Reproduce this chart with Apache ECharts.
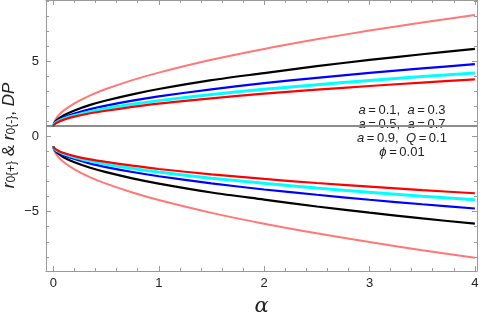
<!DOCTYPE html>
<html>
<head>
<meta charset="utf-8">
<script src="https://cdn.jsdelivr.net/npm/echarts@6/dist/echarts.min.js"></script>
<style>
  html, body { margin: 0; padding: 0; background: #fff; }
  #chart { width: 484px; height: 316px; }
</style>
</head>
<body>
<div id="chart"></div>
<script>
// alpha samples
var alpha = [0, 0.005, 0.01, 0.02, 0.05, 0.1, 0.2, 0.35, 0.5, 0.75, 1, 1.5, 2, 2.5, 3, 3.5, 4];

// r0(+) branches
var pinkUp  = [0.66, 0.88, 0.98, 1.12, 1.40, 1.72, 2.19, 2.72, 3.14, 3.73, 4.23, 5.08, 5.80, 6.44, 7.02, 7.56, 8.06];
var blackUp = [0.66, 0.81, 0.88, 0.98, 1.17, 1.40, 1.72, 2.09, 2.38, 2.79, 3.14, 3.73, 4.20, 4.66, 5.07, 5.45, 5.80];
var blueUp  = [0.66, 0.78, 0.84, 0.91, 1.07, 1.25, 1.51, 1.81, 2.04, 2.37, 2.65, 3.12, 3.53, 3.88, 4.21, 4.51, 4.79];
var cyanUp  = [0.66, 0.77, 0.81, 0.88, 1.01, 1.17, 1.39, 1.64, 1.85, 2.13, 2.37, 2.78, 3.12, 3.43, 3.71, 3.97, 4.21];
var redUp   = [0.66, 0.75, 0.79, 0.85, 0.97, 1.11, 1.31, 1.53, 1.70, 1.95, 2.17, 2.52, 2.83, 3.10, 3.34, 3.57, 3.78];

// r0(-) branches
var pinkDn  = [-0.66, -0.88, -0.98, -1.12, -1.40, -1.72, -2.19, -2.72, -3.14, -3.73, -4.23, -5.08, -5.80, -6.44, -7.02, -7.56, -8.06];
var blackDn = [-0.66, -0.81, -0.88, -0.98, -1.17, -1.40, -1.72, -2.09, -2.38, -2.79, -3.14, -3.73, -4.20, -4.66, -5.07, -5.45, -5.80];
var blueDn  = [-0.66, -0.78, -0.84, -0.91, -1.07, -1.25, -1.51, -1.81, -2.04, -2.37, -2.65, -3.12, -3.53, -3.88, -4.21, -4.51, -4.79];
var cyanDn  = [-0.66, -0.77, -0.81, -0.88, -1.01, -1.17, -1.39, -1.64, -1.85, -2.13, -2.37, -2.78, -3.12, -3.43, -3.71, -3.97, -4.21];
var redDn   = [-0.66, -0.75, -0.79, -0.85, -0.97, -1.11, -1.31, -1.53, -1.70, -1.95, -2.17, -2.52, -2.83, -3.10, -3.34, -3.57, -3.78];

// DP level
var dpAlpha = [-0.07, 4.02];
var dpValue = [0.68, 0.68];

// ticks
var xMajor = [0, 1, 2, 3, 4];
var xMinor = [0.2, 0.4, 0.6, 0.8, 1.2, 1.4, 1.6, 1.8, 2.2, 2.4, 2.6, 2.8, 3.2, 3.4, 3.6, 3.8];
var yMajor = [-5, 0, 5];
var yMinor = [-8, -7, -6, -4, -3, -2, -1, 1, 2, 3, 4, 6, 7, 8, 9];

function pairs(xs, ys) {
    var out = [];
    for (var i = 0; i < xs.length; i++) {
        out.push([xs[i], ys[i]]);
    }
    return out;
}

var frameColor = '#9a9a9a';
var fontFamily = 'Liberation Sans, Arial, sans-serif';

function xAxisOf(pos, ticks, len, withLine, withLabel) {
    return {
        type: 'value', position: pos, min: -0.07, max: 4.02,
        axisLine: { show: withLine, onZero: false, lineStyle: { color: frameColor, width: 1 } },
        axisTick: { show: true, inside: true, length: len, customValues: ticks, lineStyle: { color: frameColor } },
        axisLabel: {
            show: withLabel, customValues: ticks, margin: 6,
            color: '#222', fontSize: 13, fontFamily: fontFamily
        },
        splitLine: { show: false }
    };
}

function yAxisOf(pos, ticks, len, withLine, withLabel) {
    return {
        type: 'value', position: pos, min: -8.94, max: 9.05,
        axisLine: { show: withLine, onZero: false, lineStyle: { color: frameColor, width: 1 } },
        axisTick: { show: true, inside: true, length: len, customValues: ticks, lineStyle: { color: frameColor } },
        axisLabel: {
            show: withLabel, customValues: ticks, margin: 7,
            color: '#222', fontSize: 13, fontFamily: fontFamily,
            formatter: function (v) { return String(v).replace('-', '\u2212'); }
        },
        splitLine: { show: false }
    };
}

function curve(name, data, color, width) {
    return {
        name: name, type: 'line', smooth: 0.3, symbol: 'none',
        xAxisIndex: 0, yAxisIndex: 0,
        data: data, lineStyle: { color: color, width: width }
    };
}

var xMain = xAxisOf('bottom', xMajor, 5, true, true);
xMain.name = 'α';
xMain.nameLocation = 'middle';
xMain.nameGap = 25;
xMain.nameMoveOverlap = false;
xMain.nameTextStyle = { fontSize: 21, fontStyle: 'italic', color: '#222', fontFamily: 'DejaVu Serif, serif' };

var yMain = yAxisOf('left', yMajor, 5, true, true);
yMain.name = '{i|r}{s|0{+}}{n| & }{i|r}{s|0{-}}{n|, }{i|DP}';
yMain.nameLocation = 'middle';
yMain.nameGap = 23;
yMain.nameMoveOverlap = false;
yMain.nameTextStyle = {
    fontSize: 12, color: '#222', fontFamily: fontFamily,
    rich: {
        i: { fontSize: 17, fontStyle: 'italic', color: '#222', fontFamily: fontFamily, lineHeight: 14, verticalAlign: 'top' },
        n: { fontSize: 17, color: '#222', fontFamily: fontFamily, lineHeight: 14, verticalAlign: 'top' },
        s: { fontSize: 12, color: '#222', fontFamily: fontFamily, lineHeight: 22 }
    }
};

var option = {
    animation: false,
    backgroundColor: '#fff',
    grid: { left: 46, right: 7, top: 0, bottom: 45, containLabel: false, outerBoundsMode: 'none' },
    xAxis: [
        xMain,
        xAxisOf('top', xMajor, 5, true, false),
        xAxisOf('bottom', xMinor, 3, false, false),
        xAxisOf('top', xMinor, 3, false, false)
    ],
    yAxis: [
        yMain,
        yAxisOf('right', yMajor, 5, true, false),
        yAxisOf('left', yMinor, 3, false, false),
        yAxisOf('right', yMinor, 3, false, false)
    ],
    graphic: [{
        type: 'text', left: 357, top: 104,
        style: {
            text: '{i|a}{t|\u2009=\u20090.1,  }{i|a}{t|\u2009=\u20090.3}\n' +
                  '{i|a}{t|\u2009=\u20090.5,  }{i|a}{t|\u2009=\u20090.7}\n' +
                  '{i|a}{t|\u2009=\u20090.9,  }{i|Q}{t|\u2009=\u20090.1}\n' +
                  '{i|\u03d5}{t|\u2009=\u20090.01}',
            align: 'center',
            rich: {
                i: { fontSize: 13, fontStyle: 'italic', fill: '#222', fontFamily: fontFamily, lineHeight: 14, align: 'center' },
                t: { fontSize: 13, fill: '#222', fontFamily: fontFamily, lineHeight: 14, align: 'center' }
            }
        }
    }],
    series: [
        {
            name: 'DP', type: 'line', symbol: 'none', xAxisIndex: 0, yAxisIndex: 0,
            data: pairs(dpAlpha, dpValue), lineStyle: { color: '#8c8c8c', width: 2 }
        },
        curve('pink+', pairs(alpha, pinkUp), '#ff7777', 2),
        curve('black+', pairs(alpha, blackUp), '#000000', 2.2),
        curve('blue+', pairs(alpha, blueUp), '#0000ff', 2.2),
        curve('cyan+', pairs(alpha, cyanUp), '#00ffff', 3),
        curve('red+', pairs(alpha, redUp), '#ff0000', 2.2),
        curve('pink-', pairs(alpha, pinkDn), '#ff7777', 2),
        curve('black-', pairs(alpha, blackDn), '#000000', 2.2),
        curve('blue-', pairs(alpha, blueDn), '#0000ff', 2.2),
        curve('cyan-', pairs(alpha, cyanDn), '#00ffff', 3),
        curve('red-', pairs(alpha, redDn), '#ff0000', 2.2)
    ]
};

echarts.init(document.getElementById('chart')).setOption(option);
</script>
</body>
</html>
